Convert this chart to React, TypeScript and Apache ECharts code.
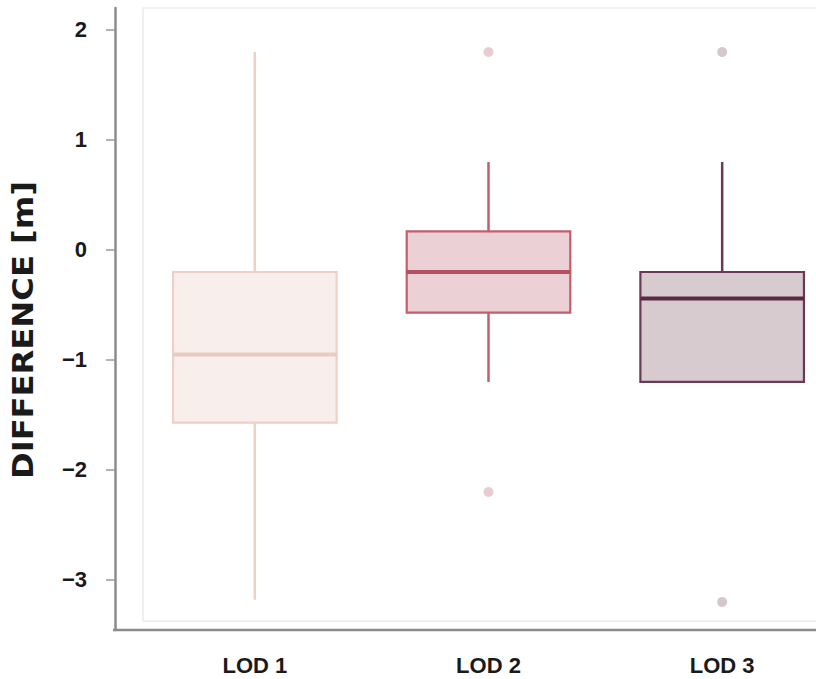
import React, { useEffect, useRef } from "react";
import * as echarts from "echarts";

const categories = ["LOD 1", "LOD 2", "LOD 3"];
const lowValues = [-3.18, -1.2, -1.2];
const q1Values = [-1.57, -0.57, -1.2];
const medianValues = [-0.95, -0.2, -0.44];
const q3Values = [-0.2, 0.17, -0.2];
const highValues = [1.8, 0.8, 0.8];
const outlierCategory = [1, 1, 2, 2];
const outlierValues = [1.8, -2.2, 1.8, -3.2];
const yTicks = [-3, -2, -1, 0, 1, 2];
const yName = "DIFFERENCE [m]";

const strokeColors = ["#eed0c6", "#c25e6e", "#6b3954"];
const fillColors = ["#f8efed", "#ebd1d6", "#d7cbd0"];
const medianColors = ["#ebcbc1", "#b64f60", "#5a2944"];
const outlierColors = ["#e4bfc6", "#e4bfc6", "#c9bac1", "#c9bac1"];

export default function App() {
  const ref = useRef<HTMLDivElement>(null);
  useEffect(() => {
    document.body.style.margin = "0";
    const chart = echarts.init(ref.current!, null, { renderer: "svg" });
    const boxData = categories.map((_, i) => [
      i,
      lowValues[i],
      q1Values[i],
      medianValues[i],
      q3Values[i],
      highValues[i],
    ]);
    chart.setOption({
      animation: false,
      backgroundColor: "#ffffff",
      grid: {
        left: 138,
        width: 701,
        top: 8,
        bottom: 49,
        outerBoundsMode: "none",
        containLabel: false,
      },
      xAxis: {
        type: "category",
        data: categories,
        axisLine: { show: false },
        axisTick: {
          show: true,
          alignWithLabel: true,
          length: 9,
          lineStyle: { color: "#9a9a9a", width: 1.5 },
        },
        axisLabel: {
          margin: 24,
          fontSize: 22,
          fontWeight: "bold",
          color: "#1a1a1a",
          fontFamily: "Liberation Sans",
        },
        splitLine: { show: false },
      },
      yAxis: {
        type: "value",
        min: -3.455,
        max: 2.2,
        position: "left",
        offset: 23,
        axisLine: { show: true, lineStyle: { color: "#8c8c8c", width: 2.5 } },
        axisTick: {
          show: true,
          length: 9,
          customValues: yTicks,
          lineStyle: { color: "#9a9a9a", width: 1.5 },
        },
        axisLabel: {
          customValues: yTicks,
          margin: 28,
          fontSize: 22,
          fontWeight: "bold",
          color: "#1a1a1a",
          fontFamily: "Liberation Sans",
          formatter: (v: number) => (v < 0 ? "\u2212" + Math.abs(v) : String(v)),
        },
        splitLine: { show: false },
      },
      graphic: [
        {
          type: "rect",
          z: -10,
          silent: true,
          shape: { x: 143, y: 8, width: 700, height: 613 },
          style: { fill: "none", stroke: "#ececec", lineWidth: 1.5 },
        },
        {
          type: "line",
          z: 10,
          silent: true,
          shape: { x1: 113, y1: 630, x2: 816, y2: 630 },
          style: { stroke: "#8c8c8c", lineWidth: 2.5 },
        },
        {
          type: "text",
          x: 23,
          y: 330,
          rotation: Math.PI / 2,
          scaleX: 1.15,
          silent: true,
          style: {
            text: yName,
            font: 'bold 28px "DejaVu Sans"',
            fill: "#1a1a1a",
            textAlign: "center",
            textVerticalAlign: "middle",
          },
        },
      ],
      series: [
        {
          type: "custom",
          data: boxData,
          encode: { x: 0, y: [1, 2, 3, 4, 5] },
          renderItem: (params: any, api: any) => {
            const i = params.dataIndex;
            const x = api.value(0);
            const bw = api.size([1, 0])[0] * 0.7;
            const pLow = api.coord([x, api.value(1)]);
            const pQ1 = api.coord([x, api.value(2)]);
            const pMed = api.coord([x, api.value(3)]);
            const pQ3 = api.coord([x, api.value(4)]);
            const pHigh = api.coord([x, api.value(5)]);
            const cx = pMed[0];
            return {
              type: "group",
              children: [
                {
                  type: "line",
                  shape: { x1: cx, y1: pHigh[1], x2: cx, y2: pQ3[1] },
                  style: { stroke: strokeColors[i], lineWidth: 2.5 },
                },
                {
                  type: "line",
                  shape: { x1: cx, y1: pQ1[1], x2: cx, y2: pLow[1] },
                  style: { stroke: strokeColors[i], lineWidth: 2.5 },
                },
                {
                  type: "rect",
                  shape: {
                    x: cx - bw / 2,
                    y: pQ3[1],
                    width: bw,
                    height: pQ1[1] - pQ3[1],
                  },
                  style: { fill: fillColors[i], stroke: strokeColors[i], lineWidth: 2.2 },
                },
                {
                  type: "line",
                  shape: { x1: cx - bw / 2, y1: pMed[1], x2: cx + bw / 2, y2: pMed[1] },
                  style: { stroke: medianColors[i], lineWidth: 4 },
                },
              ],
            };
          },
        },
        {
          type: "scatter",
          symbolSize: 10,
          data: outlierValues.map((v, k) => ({
            value: [outlierCategory[k], v],
            itemStyle: { color: outlierColors[k] },
          })),
        },
      ],
    });
    return () => chart.dispose();
  }, []);
  return <div ref={ref} style={{ width: 816, height: 679 }} />;
}
